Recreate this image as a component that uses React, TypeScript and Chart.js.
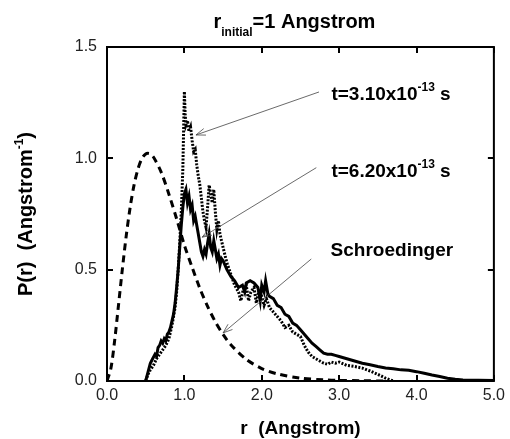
import React, { useEffect, useRef } from "react";
import { Chart, registerables } from "chart.js";

Chart.register(...registerables);

const FONT = "'Liberation Sans', Arial, Helvetica, sans-serif";

// Schroedinger (dashed)
const rSchro = [0, 0.05, 0.1, 0.15, 0.2, 0.25, 0.3, 0.35, 0.4, 0.45, 0.5, 0.55, 0.6, 0.7, 0.8, 0.9, 1.0, 1.1, 1.2, 1.3, 1.4, 1.5, 1.6, 1.8, 2.0, 2.2, 2.5, 2.8, 3.0, 3.3, 3.6];
const pSchro = [0, 0.056, 0.185, 0.345, 0.507, 0.656, 0.782, 0.881, 0.952, 0.998, 1.02, 1.021, 1.006, 0.938, 0.839, 0.728, 0.61, 0.511, 0.416, 0.335, 0.266, 0.209, 0.163, 0.097, 0.056, 0.032, 0.013, 0.0054, 0.0029, 0.001, 0.0];

// t = 3.10e-13 s (dotted)
const rT31 = [0.5, 0.53, 0.56, 0.6, 0.64, 0.68, 0.72, 0.76, 0.8, 0.84, 0.88, 0.9, 0.92, 0.94, 0.96, 0.98, 1.0, 1.01, 1.02, 1.04, 1.06, 1.08, 1.1, 1.12, 1.14, 1.16, 1.18, 1.2, 1.22, 1.24, 1.26, 1.28, 1.3, 1.32, 1.34, 1.36, 1.38, 1.4, 1.42, 1.44, 1.46, 1.48, 1.5, 1.55, 1.6, 1.65, 1.7, 1.73, 1.76, 1.8, 1.83, 1.86, 1.9, 1.93, 1.96, 2.0, 2.03, 2.06, 2.1, 2.15, 2.2, 2.25, 2.3, 2.35, 2.4, 2.45, 2.5, 2.55, 2.6, 2.65, 2.7, 2.75, 2.8, 2.85, 2.9, 2.95, 3.0, 3.1, 3.2, 3.3, 3.4, 3.5, 3.6, 3.7];
const pT31 = [0, 0.03, 0.05, 0.07, 0.1, 0.12, 0.14, 0.16, 0.19, 0.25, 0.33, 0.4, 0.5, 0.62, 0.76, 0.95, 1.3, 1.2, 1.15, 1.17, 1.12, 1.14, 1.08, 1.03, 1.04, 0.97, 0.92, 0.88, 0.82, 0.76, 0.72, 0.69, 0.78, 0.88, 0.84, 0.8, 0.86, 0.76, 0.68, 0.72, 0.66, 0.63, 0.6, 0.53, 0.48, 0.43, 0.4, 0.36, 0.41, 0.43, 0.36, 0.4, 0.42, 0.35, 0.4, 0.38, 0.34, 0.37, 0.33, 0.31, 0.29, 0.27, 0.24, 0.25, 0.22, 0.21, 0.2, 0.16, 0.13, 0.11, 0.1, 0.09, 0.08, 0.075, 0.085, 0.08, 0.085, 0.07, 0.065, 0.058, 0.045, 0.03, 0.013, 0.0];

// t = 6.20e-13 s (solid)
const rT62 = [0.5, 0.53, 0.56, 0.59, 0.62, 0.64, 0.66, 0.68, 0.7, 0.72, 0.74, 0.76, 0.78, 0.8, 0.82, 0.84, 0.86, 0.88, 0.9, 0.92, 0.94, 0.96, 0.98, 1.0, 1.02, 1.04, 1.06, 1.08, 1.1, 1.12, 1.14, 1.16, 1.18, 1.2, 1.22, 1.24, 1.26, 1.28, 1.3, 1.32, 1.34, 1.36, 1.38, 1.4, 1.42, 1.44, 1.46, 1.48, 1.5, 1.55, 1.6, 1.65, 1.7, 1.75, 1.78, 1.8, 1.85, 1.9, 1.95, 1.98, 2.0, 2.03, 2.05, 2.08, 2.1, 2.15, 2.2, 2.25, 2.3, 2.35, 2.4, 2.45, 2.5, 2.55, 2.6, 2.65, 2.7, 2.75, 2.8, 2.85, 2.9, 2.95, 3.0, 3.1, 3.2, 3.3, 3.4, 3.5, 3.6, 3.7, 3.8, 3.9, 4.0, 4.1, 4.2, 4.3, 4.4, 4.5, 4.6, 4.8, 5.0];
const pT62 = [0, 0.04, 0.08, 0.1, 0.12, 0.11, 0.15, 0.16, 0.18, 0.17, 0.19, 0.18, 0.21, 0.22, 0.24, 0.27, 0.3, 0.35, 0.42, 0.5, 0.6, 0.7, 0.78, 0.84, 0.86, 0.8, 0.83, 0.77, 0.79, 0.72, 0.74, 0.7, 0.66, 0.62, 0.58, 0.56, 0.59, 0.57, 0.62, 0.66, 0.6, 0.58, 0.63, 0.59, 0.55, 0.57, 0.52, 0.55, 0.54, 0.5, 0.47, 0.45, 0.42, 0.43, 0.4, 0.44, 0.45, 0.44, 0.42, 0.36, 0.43, 0.4, 0.45, 0.39, 0.38, 0.37, 0.34, 0.33, 0.3, 0.29, 0.26, 0.25, 0.23, 0.21, 0.19, 0.17, 0.155, 0.14, 0.125, 0.12, 0.12, 0.115, 0.11, 0.1, 0.09, 0.08, 0.073, 0.065, 0.058, 0.055, 0.05, 0.048, 0.042, 0.035, 0.027, 0.02, 0.012, 0.008, 0.005, 0.003, 0.002];

const xTicks = [0, 1, 2, 3, 4, 5];
const yTicks = [0, 0.5, 1.0, 1.5];

// annotations: label anchor (data coords) and arrow from -> to (data coords)
const annLabels = [
  { main: "t=3.10x10", sup: "-13", tail: " s", x: 2.9, y: 1.26 },
  { main: "t=6.20x10", sup: "-13", tail: " s", x: 2.9, y: 0.918 },
  { main: "Schroedinger", sup: "", tail: "", x: 2.89, y: 0.56 },
];
const annArrows = [
  { x0: 2.74, y0: 1.298, x1: 1.15, y1: 1.105 },
  { x0: 2.705, y0: 0.958, x1: 1.23, y1: 0.646 },
  { x0: 2.64, y0: 0.548, x1: 1.5, y1: 0.216 },
];

const toXY = (xs: number[], ys: number[]) => xs.map((x, i) => ({ x, y: ys[i] }));

const BIG = 19;
const SMALL = 12;

// draw a run of [text, size, dy] segments starting at x, y; returns total width
function runWidth(ctx: CanvasRenderingContext2D, segs: [string, number, number][]) {
  let w = 0;
  segs.forEach(([t, s]) => {
    ctx.font = `bold ${s}px ${FONT}`;
    w += ctx.measureText(t).width;
  });
  return w;
}
function drawRun(ctx: CanvasRenderingContext2D, segs: [string, number, number][], x: number, y: number) {
  let cx = x;
  segs.forEach(([t, s, dy]) => {
    ctx.font = `bold ${s}px ${FONT}`;
    ctx.fillText(t, cx, y + dy);
    cx += ctx.measureText(t).width;
  });
}

const decorPlugin = {
  id: "decor",
  afterDraw(chart: any) {
    const ctx = chart.ctx as CanvasRenderingContext2D;
    const { left, right, top, bottom } = chart.chartArea;
    const xs = chart.scales.x;
    const ys = chart.scales.y;
    ctx.save();
    // frame
    ctx.strokeStyle = "#000";
    ctx.lineWidth = 2;
    ctx.strokeRect(left, top, right - left, bottom - top);
    // inward ticks
    const tl = 6;
    ctx.beginPath();
    xTicks.forEach((v) => {
      const px = Math.round(xs.getPixelForValue(v));
      ctx.moveTo(px, bottom);
      ctx.lineTo(px, bottom - tl);
      ctx.moveTo(px, top);
      ctx.lineTo(px, top + tl);
    });
    yTicks.forEach((v) => {
      const py = Math.round(ys.getPixelForValue(v));
      ctx.moveTo(left, py);
      ctx.lineTo(left + tl, py);
      ctx.moveTo(right, py);
      ctx.lineTo(right - tl, py);
    });
    ctx.stroke();

    // arrows
    ctx.strokeStyle = "#444";
    ctx.lineWidth = 0.8;
    annArrows.forEach((a) => {
      const x0 = xs.getPixelForValue(a.x0);
      const y0 = ys.getPixelForValue(a.y0);
      const x1 = xs.getPixelForValue(a.x1);
      const y1 = ys.getPixelForValue(a.y1);
      ctx.beginPath();
      ctx.moveTo(x0, y0);
      ctx.lineTo(x1, y1);
      const ang = Math.atan2(y1 - y0, x1 - x0);
      const hl = 10;
      const ha = 0.35;
      ctx.moveTo(x1 - hl * Math.cos(ang - ha), y1 - hl * Math.sin(ang - ha));
      ctx.lineTo(x1, y1);
      ctx.lineTo(x1 - hl * Math.cos(ang + ha), y1 - hl * Math.sin(ang + ha));
      ctx.stroke();
    });

    // annotation labels
    ctx.fillStyle = "#000";
    ctx.textBaseline = "alphabetic";
    ctx.textAlign = "left";
    annLabels.forEach((l) => {
      const x = xs.getPixelForValue(l.x);
      const y = ys.getPixelForValue(l.y);
      const segs: [string, number, number][] = [[l.main, BIG, 0]];
      if (l.sup) {
        segs.push([l.sup, SMALL, -9]);
        segs.push([l.tail, BIG, 0]);
      }
      drawRun(ctx, segs, x, y);
    });

    // title with subscript
    const cx = (left + right) / 2;
    const titleSegs: [string, number, number][] = [
      ["r", BIG + 1, 0],
      ["initial", SMALL, 8],
      ["=1 Angstrom", BIG + 1, 0],
    ];
    const tw = runWidth(ctx, titleSegs);
    drawRun(ctx, titleSegs, cx - tw / 2 - 6, top - 19);

    // x axis title
    ctx.textAlign = "center";
    ctx.font = `bold ${BIG}px ${FONT}`;
    ctx.fillText("r  (Angstrom)", cx, bottom + 53);

    // y axis title (rotated) with superscript
    const cy = (top + bottom) / 2;
    ctx.save();
    ctx.translate(left - 75, cy);
    ctx.rotate(-Math.PI / 2);
    ctx.textAlign = "left";
    const ySegs: [string, number, number][] = [
      ["P(r)  (Angstrom", BIG + 1, 0],
      ["-1", SMALL, -9],
      [")", BIG + 1, 0],
    ];
    const yw = runWidth(ctx, ySegs);
    drawRun(ctx, ySegs, -yw / 2, 0);
    ctx.restore();

    ctx.restore();
  },
};

export default function App() {
  const ref = useRef<HTMLCanvasElement | null>(null);
  useEffect(() => {
    if (!ref.current) return;
    const chart = new Chart(ref.current, {
      type: "line",
      data: {
        datasets: [
          {
            label: "Schroedinger",
            data: toXY(rSchro, pSchro),
            borderColor: "#000",
            borderWidth: 3,
            borderDash: [7, 5],
            pointRadius: 0,
            tension: 0.3,
            fill: false,
          },
          {
            label: "t=3.10x10^-13 s",
            data: toXY(rT31, pT31),
            borderColor: "#000",
            borderWidth: 3,
            borderDash: [2, 1.5],
            pointRadius: 0,
            tension: 0,
            fill: false,
          },
          {
            label: "t=6.20x10^-13 s",
            data: toXY(rT62, pT62),
            borderColor: "#000",
            borderWidth: 3,
            pointRadius: 0,
            tension: 0,
            fill: false,
          },
        ],
      },
      options: {
        animation: false,
        responsive: false,
        maintainAspectRatio: false,
        layout: { padding: { left: 0, right: 13, top: 47, bottom: 0 } },
        plugins: { legend: { display: false }, tooltip: { enabled: false }, title: { display: false } },
        scales: {
          x: {
            type: "linear",
            min: 0,
            max: 5,
            border: { display: false },
            grid: { display: false, drawTicks: false },
            afterBuildTicks: (s: any) => {
              s.ticks = xTicks.map((v) => ({ value: v }));
            },
            afterFit: (s: any) => {
              s.height = 58;
            },
            ticks: {
              padding: 5,
              color: "#222",
              font: { family: FONT, size: 16 },
              callback: (v: any) => Number(v).toFixed(1),
            },
          },
          y: {
            type: "linear",
            min: 0,
            max: 1.5,
            border: { display: false },
            grid: { display: false, drawTicks: false },
            afterBuildTicks: (s: any) => {
              s.ticks = yTicks.map((v) => ({ value: v }));
            },
            afterFit: (s: any) => {
              s.width = 107;
            },
            ticks: {
              padding: 10,
              color: "#222",
              font: { family: FONT, size: 16 },
              callback: (v: any) => Number(v).toFixed(1),
            },
          },
        },
      },
      plugins: [decorPlugin],
    });
    return () => chart.destroy();
  }, []);
  return (
    <div style={{ position: "fixed", left: 0, top: 0, width: 510, height: 439, background: "#fff" }}>
      <canvas ref={ref} width={510} height={439} style={{ width: 510, height: 439 }} />
    </div>
  );
}
